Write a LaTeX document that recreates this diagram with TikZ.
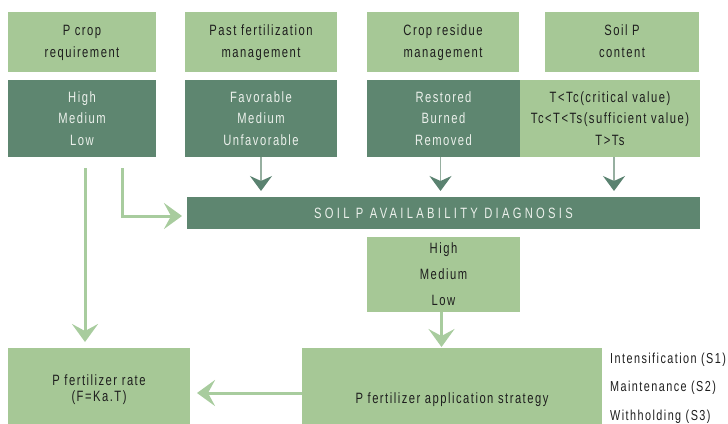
\documentclass[tikz,border=0pt]{standalone}
\usepackage{fontspec}
\setmainfont{Liberation Sans}[FakeStretch=0.75, LetterSpace=10]
\usetikzlibrary{arrows.meta}
\definecolor{lightbox}{RGB}{166,200,150}
\definecolor{darkbox}{RGB}{94,134,112}
\definecolor{lightarrow}{RGB}{168,204,158}
\definecolor{darkhead}{RGB}{90,130,112}
\definecolor{thinline}{RGB}{150,175,160}
\definecolor{darktext}{RGB}{30,30,30}
\definecolor{lighttext}{RGB}{235,240,235}
\newcommand{\twolines}[2]{\raisebox{-2bp}{\begin{tabular}{@{}c@{}}#1\\#2\end{tabular}}}
\tikzset{
  boxbase/.style={rectangle, inner sep=0pt, outer sep=0pt, align=center,
    font=\fontsize{15}{21.5}\selectfont},
  lbox/.style={boxbase, fill=lightbox, text=darktext},
  dbox/.style={boxbase, fill=darkbox, text=lighttext},
  topbox/.style={lbox, minimum height=60bp, font=\fontsize{15}{22}\selectfont},
  bigarrow/.style={line width=3bp, draw=lightarrow,
    -{Stealth[length=18bp,width=26bp,inset=7bp,fill=lightarrow]}},
  toparrow/.style={line width=1.6bp, draw=thinline,
    -{Stealth[length=15bp,width=22bp,inset=5bp,color=darkhead,fill=darkhead]}},
  sidelabel/.style={anchor=west, inner sep=0pt, text=darktext,
    font=\fontsize{14.5}{16}\selectfont}
}
\begin{document}
\begin{tikzpicture}[x=1bp,y=-1bp]
\useasboundingbox (0,0) rectangle (728,423);
% top row
\node[topbox, minimum width=148bp] (t1) at (82,42) {\twolines{P crop}{requirement}};
\node[topbox, minimum width=152bp] (t2) at (261,42) {\twolines{Past fertilization}{management}};
\node[topbox, minimum width=152bp] (t3) at (443,42) {\twolines{Crop residue}{management}};
\node[topbox, minimum width=154bp] (t4) at (622,42) {\twolines{Soil P}{content}};
% second row
\node[dbox, minimum width=148bp, minimum height=77bp] (d1) at (82,118.5) {High\\Medium\\Low};
\node[dbox, minimum width=152bp, minimum height=77bp] (d2) at (261,118.5) {Favorable\\Medium\\Unfavorable};
\node[dbox, minimum width=153bp, minimum height=77bp] (d3) at (443.5,118.5) {Restored\\Burned\\Removed};
\node[lbox, minimum width=180bp, minimum height=77bp] (d4) at (610,118.5) {T<Tc(critical value)\\Tc<T<Ts(sufficient value)\\T>Ts};
% diagnosis bar
\node[dbox, minimum width=513bp, minimum height=32bp] (bar) at (443.5,213)
  {\addfontfeature{LetterSpace=22}SOIL P AVAILABILITY DIAGNOSIS};
% result
\node[lbox, minimum width=153bp, minimum height=75bp, font=\fontsize{15}{26}\selectfont] (hml) at (443.5,274.5) {High\\Medium\\Low};
% bottom (boxes run past the lower edge of the picture)
\node[lbox, minimum width=300bp, minimum height=104bp] (strat) at (452,400) {P fertilizer application strategy};
\node[lbox, minimum width=182bp, minimum height=84bp, font=\fontsize{15}{16}\selectfont] (rate) at (99,390) {P fertilizer rate\\(F=Ka.T)};
\node[sidelabel] (s1) at (610,360) {Intensification (S1)};
\node[sidelabel] (s2) at (610,388) {Maintenance (S2)};
\node[sidelabel] (s3) at (610,417) {Withholding (S3)};
% arrows top to bar
\draw[toparrow, shorten >=6bp] (d2.south) -- (d2.south |- bar.north);
\draw[toparrow, shorten >=6bp] ([xshift=-3bp]d3.south) -- ([xshift=-3bp]d3.south |- bar.north);
\draw[toparrow, shorten >=6bp] ([xshift=4bp]d4.south) -- ([xshift=4bp]d4.south |- bar.north);
% left arrows
\draw[bigarrow, shorten <=11bp, shorten >=6bp] ([xshift=3bp]d1.south) -- ([xshift=3bp]d1.south |- rate.north);
\draw[bigarrow, shorten <=11bp, shorten >=5bp] ([xshift=40bp]d1.south) |- ([yshift=-3bp]bar.west);
% lower arrows
\draw[bigarrow, shorten >=1bp] ([xshift=-2bp]hml.south) -- ([xshift=-2bp]hml.south |- strat.north);
\draw[bigarrow, shorten >=7bp] ([yshift=7bp]strat.west) -- ([yshift=7bp]strat.west -| rate.east);
\end{tikzpicture}
\end{document}
